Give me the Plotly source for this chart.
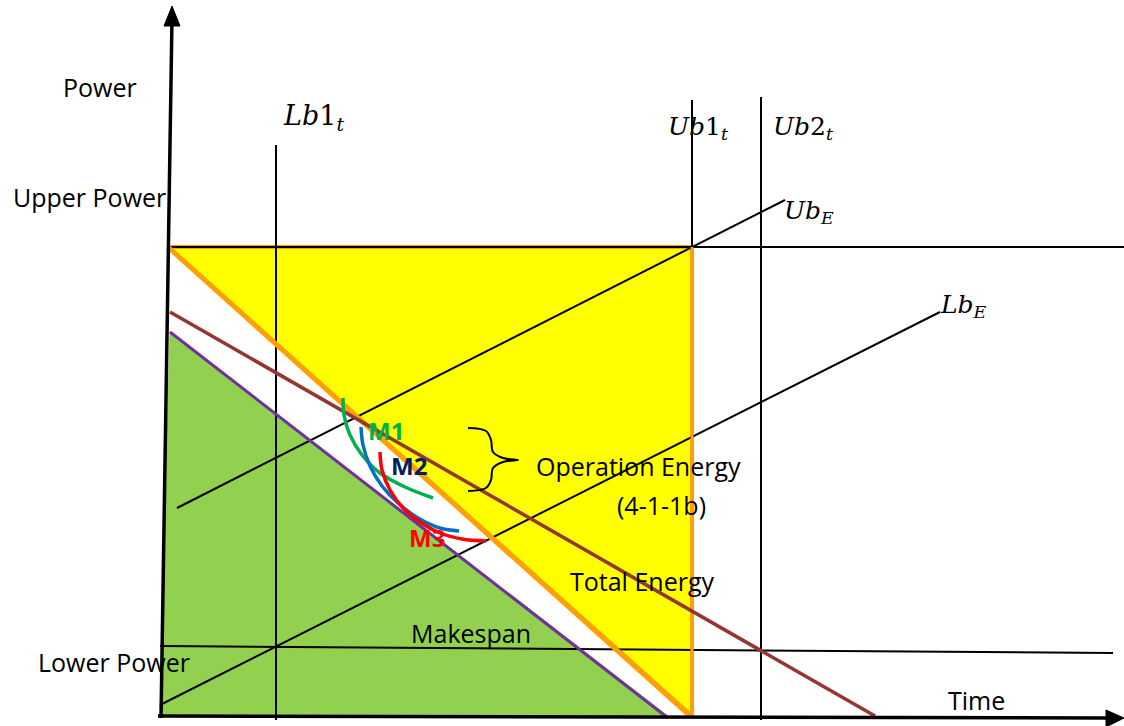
import plotly.graph_objects as go

# diagram geometry (picture units: x to the right, y downwards)
yellow_x = [168, 692, 692, 168]
yellow_y = [247, 247, 716, 247]
green_x = [170, 668, 160, 170]
green_y = [332, 716, 716, 332]

power_axis_x = [161, 172]
power_axis_y = [718, 18]
time_axis_x = [158, 1110]
time_axis_y = [716, 718]

upper_power_x = [168, 1124]
upper_power_y = [247, 247]
lower_power_x = [160, 1113]
lower_power_y = [646, 653]

vlines = {"Lb1": (276, 145, 720), "Ub1": (692, 100, 716), "Ub2": (761, 97, 720)}

ub_e_x = [177, 785]
ub_e_y = [508, 200]
lb_e_x = [160, 940]
lb_e_y = [705, 312]

orange_x = [168, 690]
orange_y = [247, 716]
brown_x = [170, 875]
brown_y = [312, 716]
purple_x = [170, 668]
purple_y = [332, 718]

m1_x = [343, 344, 350, 362, 380, 405, 433]
m1_y = [398, 415, 435, 455, 473, 487, 498]
m2_x = [361, 363, 370, 382, 398, 418, 440, 459]
m2_y = [427, 445, 466, 486, 503, 518, 528, 531]
m3_x = [380, 382, 390, 403, 420, 440, 462, 486]
m3_y = [452, 470, 490, 508, 522, 533, 539, 541]

brace_x = [468, 486, 491, 493, 503, 518, 503, 493, 491, 486, 468]
brace_y = [428, 431, 440, 452, 458, 460, 462, 468, 480, 488, 491]

fig = go.Figure()


def add_line(x, y, color, width, fill=None, fillcolor=None, shape="linear"):
    fig.add_trace(go.Scatter(x=x, y=y, mode="lines",
                             line=dict(color=color, width=width, shape=shape),
                             fill=fill, fillcolor=fillcolor,
                             hoverinfo="skip", showlegend=False))


add_line(yellow_x, yellow_y, "#FFA000", 4, fill="toself", fillcolor="#FFFF00")
add_line(green_x, green_y, "#92D050", 1, fill="toself", fillcolor="#92D050")

add_line(upper_power_x, upper_power_y, "black", 2)
add_line(lower_power_x, lower_power_y, "black", 2)
for name, (vx, y0, y1) in vlines.items():
    add_line([vx, vx], [y0, y1], "black", 2)
add_line(ub_e_x, ub_e_y, "black", 2)
add_line(lb_e_x, lb_e_y, "black", 2)

add_line(orange_x, orange_y, "#FFA000", 5)
add_line([692, 692], [247, 716], "#FFA000", 3)
add_line(brown_x, brown_y, "#943634", 3.5)
add_line(purple_x, purple_y, "#7030A0", 3)

add_line(m1_x, m1_y, "#00B050", 3.5, shape="spline")
add_line(m2_x, m2_y, "#0070C0", 3.5, shape="spline")
add_line(m3_x, m3_y, "#FF0000", 3.5, shape="spline")
add_line(brace_x, brace_y, "black", 2, shape="spline")

add_line(power_axis_x, power_axis_y, "black", 3.5)
add_line(time_axis_x, time_axis_y, "black", 3.5)
# arrow heads
add_line([172, 164, 180, 172], [6, 26, 26, 6], "black", 1, fill="toself", fillcolor="black")
add_line([1124, 1106, 1106, 1124], [718, 710, 727, 718], "black", 1, fill="toself", fillcolor="black")

sans = "Open Sans, Noto Sans, sans-serif"
serif = "DejaVu Serif, Liberation Serif, serif"
labels = [
    ("Power", 100, 87, 25, "black", False),
    ("Upper Power", 89, 197, 25, "black", False),
    ("Lower Power", 114, 662, 25, "black", False),
    ("Time", 976, 700, 25, "black", False),
    ("Makespan", 471, 633, 25, "black", False),
    ("Total Energy", 642, 581, 25, "black", False),
    ("Operation Energy", 638, 466, 25, "black", False),
    ("(4-1-1b)", 661, 505, 25, "black", False),
    ("M1", 386, 430, 24, "#00B050", True),
    ("M2", 409, 465, 24, "#002060", True),
    ("M3", 427, 537, 24, "#FF0000", True),
]
for text, x, y, size, color, bold in labels:
    fig.add_annotation(x=x, y=y, text="<b>%s</b>" % text if bold else text,
                       showarrow=False, xanchor="center", yanchor="middle",
                       font=dict(family=sans, size=size, color=color))

math_labels = [
    ("<i>Lb</i>1<sub><i>t</i></sub>", 281, 117, 27),
    ("<i>Ub</i>1<sub><i>t</i></sub>", 666, 128, 25),
    ("<i>Ub</i>2<sub><i>t</i></sub>", 771, 128, 25),
    ("<i>Ub</i><sub><i>E</i></sub>", 782, 212, 25),
    ("<i>Lb</i><sub><i>E</i></sub>", 938, 306, 25),
]
for text, x, y, size in math_labels:
    fig.add_annotation(x=x, y=y, text=text, showarrow=False,
                       xanchor="left", yanchor="middle",
                       font=dict(family=serif, size=size, color="black"))

fig.update_layout(width=1124, height=726, plot_bgcolor="white",
                  paper_bgcolor="white", margin=dict(l=0, r=0, t=0, b=0),
                  xaxis=dict(range=[0, 1124], visible=False),
                  yaxis=dict(range=[726, 0], visible=False),
                  showlegend=False)
fig.write_html("out.html", config={"displayModeBar": False},
               post_script="document.body.style.margin='0';")
